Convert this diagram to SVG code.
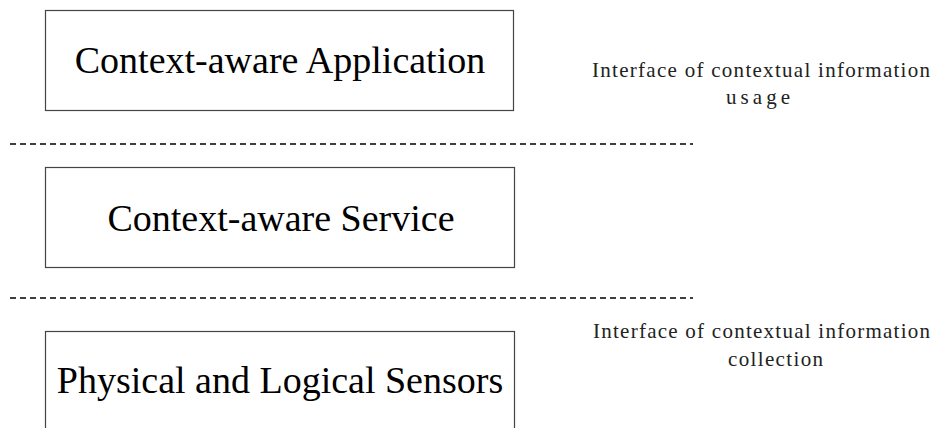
<svg xmlns="http://www.w3.org/2000/svg" width="942" height="428" viewBox="0 0 942 428">
<style>
.box{fill:#fff;stroke:#444;stroke-width:1.2}
.big{font-family:"Liberation Serif","Times New Roman",serif;font-size:38px;fill:#000;text-anchor:middle}
.small{font-family:"Liberation Serif","Times New Roman",serif;font-size:21px;fill:#222}
.dash{stroke:#000;stroke-width:1.5;stroke-dasharray:6 4;fill:none}
</style>
<rect width="942" height="428" fill="#fff"/>
<g id="app">
<rect class="box" x="45.5" y="10.5" width="468" height="100"/>
<text class="big" x="280" y="73">Context-aware Application</text>
</g>
<g id="service">
<rect class="box" x="45.5" y="167.5" width="469" height="100"/>
<text class="big" x="281" y="231">Context-aware Service</text>
</g>
<g id="sensors">
<rect class="box" x="45.5" y="331.5" width="469" height="110"/>
<text class="big" x="280" y="393">Physical and Logical Sensors</text>
</g>
<g id="connectors">
<line class="dash" x1="10" y1="144" x2="693" y2="144"/>
<line class="dash" x1="10" y1="298" x2="693" y2="298"/>
</g>
<g id="labels">
<text class="small" x="592" y="77" textLength="338" lengthAdjust="spacing">Interface of contextual information</text>
<text class="small" x="726" y="104" textLength="64" lengthAdjust="spacing">usage</text>
<text class="small" x="593" y="338" textLength="337" lengthAdjust="spacing">Interface of contextual information</text>
<text class="small" x="728" y="366" textLength="95" lengthAdjust="spacing">collection</text>
</g>
</svg>
